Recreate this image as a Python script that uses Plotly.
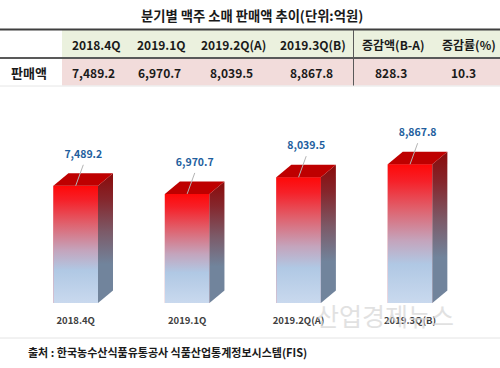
import plotly.graph_objects as go

# ---- data ----
categories = ["2018.4Q", "2019.1Q", "2019.2Q(A)", "2019.3Q(B)"]
sales = [7489.2, 6970.7, 8039.5, 8867.8]
value_labels = ["7,489.2", "6,970.7", "8,039.5", "8,867.8"]
title_text = "분기별 맥주 소매 판매액 추이(단위:억원)"
source_text = "출처 : 한국농수산식품유통공사 식품산업통계정보시스템(FIS)"
watermark_text = "산업경제뉴스"
table_headers = ["2018.4Q", "2019.1Q", "2019.2Q(A)", "2019.3Q(B)", "증감액(B-A)", "증감률(%)"]
table_row_name = "판매액"
table_values = ["7,489.2", "6,970.7", "8,039.5", "8,867.8", "828.3", "10.3"]
header_px = [96, 161, 233, 313, 393, 469]
row_px = [93, 159, 231, 311, 391, 463]

# ---- geometry ----
W, H, PLOT_H = 500, 368, 303
PX_PER_VAL = 0.01565
PX_PER_CAT = 111.45
X0_PX = 75.7
yrange = [0, PLOT_H / PX_PER_VAL]
xrange_ = [-X0_PX / PX_PER_CAT, (W - X0_PX) / PX_PER_CAT]
half = 22.3 / PX_PER_CAT
dx = 15 / PX_PER_CAT
dy = 12.5 / PX_PER_VAL
FONT = "Noto Sans CJK KR"


def py(p):
    return 1 - p / PLOT_H


FRONT = [[0, "#C9D9EE"], [0.28, "#B0C8E4"], [0.45, "#C4A4BC"], [0.68, "#E0606C"], [0.88, "#F62028"], [1, "#FF0808"]]
SIDE = [[0, "#71849C"], [0.3, "#71849C"], [0.55, "#7C5A68"], [0.8, "#85262C"], [1, "#8A0A0A"]]

fig = go.Figure()
xs = list(range(len(categories)))
fig.add_trace(go.Bar(x=xs, y=sales, width=2 * half, marker=dict(color="#E0606C", line_width=0), hoverinfo="skip"))
for i, v in zip(xs, sales):
    L, R = i - half, i + half
    fig.add_trace(go.Scatter(x=[L, R, R, L, L], y=[0, 0, v, v, 0], mode="lines", line_width=0, fill="toself",
                             fillgradient=dict(type="vertical", colorscale=FRONT, start=0, stop=v), hoverinfo="skip"))
    fig.add_trace(go.Scatter(x=[R, R + dx, R + dx, R, R], y=[0, dy, v + dy, v, 0], mode="lines", line_width=0, fill="toself",
                             fillgradient=dict(type="vertical", colorscale=SIDE, start=0, stop=v + dy), hoverinfo="skip"))
    fig.add_trace(go.Scatter(x=[L, R, R + dx, L + dx, L], y=[v, v, v + dy, v + dy, v], mode="lines", line_width=0, fill="toself",
                             fillcolor="#BE0000", hoverinfo="skip"))
    fig.add_trace(go.Scatter(x=[i, i + 7.6 / PX_PER_CAT], y=[v, v + 21 / PX_PER_VAL], mode="lines",
                             line=dict(color="#B4B4B4", width=1), hoverinfo="skip"))
fig.add_trace(go.Scatter(x=[i + 7.6 / PX_PER_CAT for i in xs], y=[v + 30.5 / PX_PER_VAL for v in sales], mode="text",
                         text=value_labels, textposition="middle center",
                         textfont=dict(family=FONT, size=10.5, color="#1F5F9E", weight="bold"), hoverinfo="skip"))

shapes = []


def rect(x0, y0, x1, y1, color):
    shapes.append(dict(type="rect", xref="paper", yref="paper", x0=x0 / W, x1=x1 / W, y0=py(y0), y1=py(y1),
                       fillcolor=color, line_width=0, layer="below"))


def hline(y, color, width, x0=0, x1=W):
    shapes.append(dict(type="line", xref="paper", yref="paper", x0=x0 / W, x1=x1 / W, y0=py(y), y1=py(y),
                       line=dict(color=color, width=width)))


rect(62, 30, 500, 57.5, "#EBF1DE")
rect(62, 59, 500, 85.5, "#F2DCDB")
hline(29.5, "#3F3F3F", 2)
hline(58, "#595959", 2)
hline(86, "#E6E6E6", 1)
hline(338, "#E4E4E4", 1)
shapes.append(dict(type="line", xref="paper", yref="paper", x0=353.5 / W, x1=353.5 / W, y0=py(30), y1=py(85.5),
                   line=dict(color="#595959", width=1)))

ann = []


def text(x, y, s, size, color="#1A1A1A", anchor="center", weight="bold", opacity=1):
    ann.append(dict(x=x / W, y=py(y), xref="paper", yref="paper", text=s, showarrow=False, xanchor=anchor, yanchor="middle",
                    opacity=opacity, font=dict(family=FONT, size=size, color=color, weight=weight)))


text(252, 15, title_text, 13.3)
for x, s in zip(header_px, table_headers):
    text(x, 44.7, s, 12)
text(29, 72, table_row_name, 13)
for x, s in zip(row_px, table_values):
    text(x, 72, s, 12)
text(26, 352, source_text, 11, anchor="left")
text(385, 315, watermark_text, 25, color="#D8D8D8", weight="normal", opacity=0.75)

fig.update_layout(
    width=W, height=H, margin=dict(l=0, r=0, t=0, b=H - PLOT_H, pad=0), showlegend=False,
    plot_bgcolor="white", paper_bgcolor="white", shapes=shapes, annotations=ann,
    xaxis=dict(range=xrange_, tickmode="array", tickvals=xs, ticktext=categories, showgrid=False, zeroline=False,
               showline=False, ticks="", ticklabelstandoff=10,
               tickfont=dict(family=FONT, size=9.5, color="#404040", weight="bold")),
    yaxis=dict(range=yrange, visible=False, showgrid=False, zeroline=False),
)
fig.write_html("out.html", config={"displayModeBar": False},
               post_script="document.body.style.margin='0';document.documentElement.style.overflow='hidden';")
